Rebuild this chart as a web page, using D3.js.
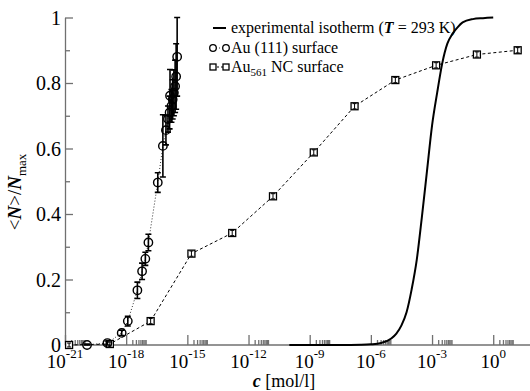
<!DOCTYPE html>
<html><head><meta charset="utf-8">
<script src="https://cdn.jsdelivr.net/npm/d3@7"></script>
<style>
body{margin:0;background:#fff}
svg{display:block}
text{font-family:"Liberation Serif","Times New Roman",serif;fill:#000}
</style>
</head><body><svg id="c" width="530" height="391"></svg>
<script>
// ---- data (concentrations given as log10 c [mol/l]) ----
const xTickExponents = [-21, -18, -15, -12, -9, -6, -3, 0];
const yTickValues = [0, 0.2, 0.4, 0.6, 0.8, 1];
const yMinorValues = [0.1, 0.3, 0.5, 0.7, 0.9];

const au111LogC  = [-19.92, -18.92, -18.22, -17.92, -17.45, -17.22, -17.06, -16.91, -16.45, -16.2, -16.05, -15.95, -15.87, -15.85, -15.78, -15.72, -15.66, -15.6, -15.55, -15.5];
const au111Theta = [0.0, 0.006, 0.037, 0.073, 0.167, 0.225, 0.263, 0.313, 0.496, 0.608, 0.656, 0.69, 0.71, 0.761, 0.73, 0.75, 0.77, 0.79, 0.82, 0.88];
const au111Err   = [0.003, 0.006, 0.008, 0.015, 0.025, 0.025, 0.02, 0.025, 0.03, 0.095, 0.045, 0.04, 0.05, 0.08, 0.05, 0.06, 0.07, 0.08, 0.1, 0.12];

const au561LogC  = [-20.8, -18.8, -16.8, -14.8, -12.8, -10.8, -8.8, -6.8, -4.8, -2.8, -0.8, 1.2];
const au561Theta = [0.0, 0.003, 0.073, 0.279, 0.342, 0.454, 0.588, 0.729, 0.809, 0.854, 0.887, 0.900];
const au561Err   = [0.006, 0.006, 0.008, 0.008, 0.008, 0.008, 0.008, 0.008, 0.008, 0.008, 0.008, 0.008];

const isoLogC  = [-10, -8, -7, -6.5, -6, -5.5, -5, -4.75, -4.5, -4.25, -4, -3.75, -3.5, -3.25, -3, -2.75, -2.5, -2.25, -2, -1.75, -1.5, -1, -0.5, 0];
const isoTheta = [0, 0.0001, 0.0002, 0.0006, 0.002, 0.006, 0.02, 0.035, 0.06, 0.1, 0.17, 0.26, 0.39, 0.53, 0.67, 0.77, 0.86, 0.92, 0.95, 0.97, 0.985, 0.995, 0.998, 1.0];

// ---- scales ----
const svg = d3.select("#c");
const x = d3.scaleLog().domain([1e-21, 1e2]).range([65, 534]);
const y = d3.scaleLinear().domain([0, 1]).range([345, 17.5]);
const X = l => x(Math.pow(10, l));
const axisColor = "#707070";

// ---- x axis ----
const majors = xTickExponents.map(e => Math.pow(10, e));
const minors = [];
xTickExponents.forEach(e => { for (let m = 2; m <= 9; m++) minors.push(m * Math.pow(10, e)); });

const gx = svg.append("g").attr("transform", "translate(0,345)");
gx.call(d3.axisBottom(x).tickValues(majors).tickSize(-10).tickSizeOuter(0).tickFormat(""));
const gxm = svg.append("g").attr("transform", "translate(0,345)");
gxm.call(d3.axisBottom(x).tickValues(minors).tickSize(-5).tickSizeOuter(0).tickFormat(""));
gxm.select(".domain").remove();
svg.selectAll("g .domain, g .tick line").attr("stroke", axisColor).attr("stroke-width", 1.3);
gx.select(".domain").attr("d", "M65,0H530");

const xl = svg.append("g");
xTickExponents.forEach(e => {
  const t = xl.append("text").attr("x", x(Math.pow(10, e))).attr("y", 368)
    .attr("text-anchor", "middle").attr("font-size", 19);
  t.append("tspan").text("10");
  t.append("tspan").attr("dy", -10).attr("font-size", 13).text(String(e));
});

// ---- y axis ----
const gy = svg.append("g").attr("transform", "translate(65,0)");
gy.call(d3.axisLeft(y).tickValues(yTickValues).tickSize(-8).tickSizeOuter(0).tickPadding(4)
  .tickFormat(d => (d === 0 || d === 1) ? String(d) : d.toFixed(1)));
gy.selectAll("text").attr("font-size", 20).attr("font-family", "Liberation Serif").attr("dy", "0.34em");
const gym = svg.append("g").attr("transform", "translate(65,0)");
gym.call(d3.axisLeft(y).tickValues(yMinorValues).tickSize(-5).tickSizeOuter(0).tickFormat(""));
gym.select(".domain").remove();
svg.selectAll("g .domain, g .tick line").attr("stroke", axisColor).attr("stroke-width", 1.3);

// ---- axis titles ----
const yt = svg.append("text").attr("transform", "translate(21,192) rotate(-90)")
  .attr("text-anchor", "middle").attr("font-size", 19);
yt.append("tspan").text("<");
yt.append("tspan").attr("font-weight", "bold").attr("font-style", "italic").text("N");
yt.append("tspan").text(">/");
yt.append("tspan").attr("font-weight", "bold").attr("font-style", "italic").text("N");
yt.append("tspan").attr("dy", 5).attr("font-size", 13).text("max");

const xt = svg.append("text").attr("x", 284).attr("y", 387).attr("text-anchor", "middle").attr("font-size", 18);
xt.append("tspan").attr("font-weight", "bold").attr("font-style", "italic").text("c");
xt.append("tspan").text(" [mol/l]");

// ---- isotherm ----
const isoData = isoLogC.map((l, i) => [l, isoTheta[i]]);
svg.append("path").datum(isoData)
  .attr("d", d3.line().x(d => X(d[0])).y(d => y(d[1])).curve(d3.curveMonotoneX))
  .attr("fill", "none").attr("stroke", "#000").attr("stroke-width", 2);

// ---- Au561 NC (squares, dashed) ----
const d561 = au561LogC.map((l, i) => ({l, v: au561Theta[i], e: au561Err[i]}));
svg.append("path").datum(d561)
  .attr("d", d3.line().x(d => X(d.l)).y(d => y(d.v)))
  .attr("fill", "none").attr("stroke", "#000").attr("stroke-width", 1).attr("stroke-dasharray", "3,2.5");
const g561 = svg.append("g");
d561.forEach(d => {
  const cx = X(d.l), cy = y(d.v);
  g561.append("rect").attr("x", cx - 3.5).attr("y", cy - 3.5).attr("width", 7).attr("height", 7)
    .attr("fill", "#fff").attr("stroke", "#000").attr("stroke-width", 1.3);
  const y1 = y(d.v + d.e), y2 = y(d.v - d.e);
  g561.append("path").attr("d", `M${cx},${y1}V${y2}M${cx-2},${y1}H${cx+2}M${cx-2},${y2}H${cx+2}`)
    .attr("stroke", "#000").attr("stroke-width", 1).attr("fill", "none");
});

// ---- Au(111) (circles, dotted, error bars) ----
const d111 = au111LogC.map((l, i) => ({l, v: au111Theta[i], e: au111Err[i]}));
svg.append("path").datum(d111)
  .attr("d", d3.line().x(d => X(d.l)).y(d => y(d.v)))
  .attr("fill", "none").attr("stroke", "#333").attr("stroke-width", 1).attr("stroke-dasharray", "1,2");
const g111 = svg.append("g");
d111.forEach(d => {
  const cx = X(d.l), cy = y(d.v);
  const y1 = y(Math.min(1, d.v + d.e)), y2 = y(Math.max(0, d.v - d.e));
  g111.append("path").attr("d", `M${cx},${y1}V${y2}M${cx-3},${y1}H${cx+3}M${cx-3},${y2}H${cx+3}`)
    .attr("stroke", "#000").attr("stroke-width", 1.6).attr("fill", "none");
  g111.append("circle").attr("cx", cx).attr("cy", cy).attr("r", 4.2)
    .attr("fill", "none").attr("stroke", "#000").attr("stroke-width", 1.4);
});

// ---- legend ----
const lg = svg.append("g").attr("font-size", 16);
const lx0 = 213, lx1 = 226, tx = 231;
lg.append("line").attr("x1", lx0).attr("x2", lx1).attr("y1", 28).attr("y2", 28).attr("stroke", "#000").attr("stroke-width", 2);
const t1 = lg.append("text").attr("x", tx).attr("y", 33);
t1.append("tspan").text("experimental isotherm (");
t1.append("tspan").attr("font-weight", "bold").attr("font-style", "italic").text("T");
t1.append("tspan").text(" = 293 K)");

lg.append("line").attr("x1", lx0).attr("x2", lx1).attr("y1", 48).attr("y2", 48).attr("stroke", "#333").attr("stroke-dasharray", "1,2");
[lx0, lx1].forEach(cx => lg.append("circle").attr("cx", cx).attr("cy", 48).attr("r", 3.3).attr("fill", "#fff").attr("stroke", "#000").attr("stroke-width", 1.3));
lg.append("text").attr("x", tx).attr("y", 53).text("Au (111) surface");

lg.append("line").attr("x1", lx0).attr("x2", lx1).attr("y1", 67).attr("y2", 67).attr("stroke", "#000").attr("stroke-dasharray", "2,2");
[lx0, lx1].forEach(cx => lg.append("rect").attr("x", cx - 3).attr("y", 64).attr("width", 6).attr("height", 6).attr("fill", "#fff").attr("stroke", "#000").attr("stroke-width", 1.3));
const t3 = lg.append("text").attr("x", tx).attr("y", 72);
t3.append("tspan").text("Au");
t3.append("tspan").attr("dy", 4).attr("font-size", 11).text("561");
t3.append("tspan").attr("dy", -4).text(" NC surface");
</script>
</body></html>
